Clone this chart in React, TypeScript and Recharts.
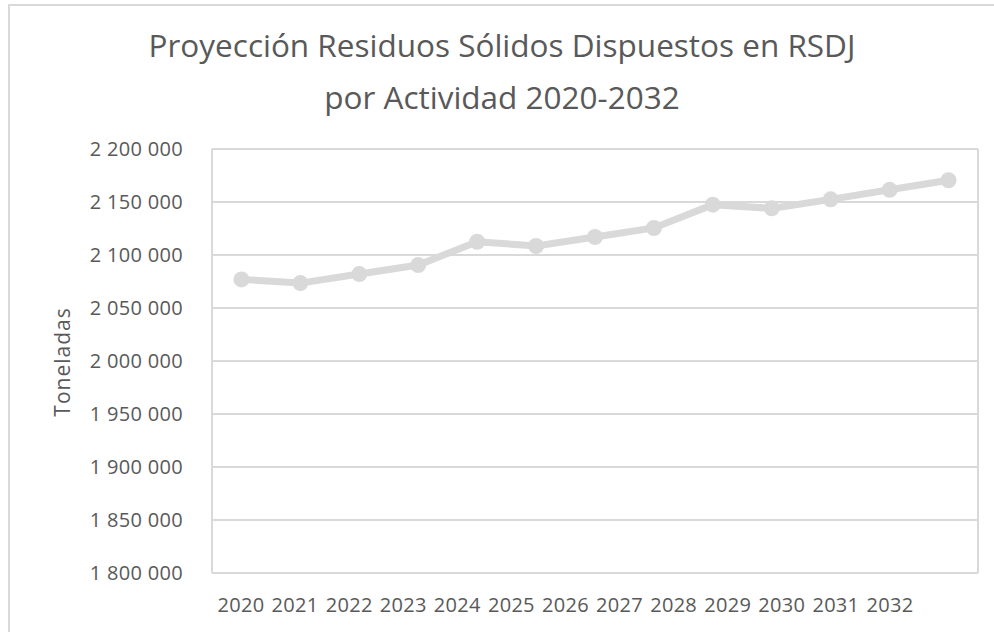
import { LineChart, Line, XAxis, YAxis, CartesianGrid } from "recharts";

const years = [2020, 2021, 2022, 2023, 2024, 2025, 2026, 2027, 2028, 2029, 2030, 2031, 2032];
const toneladas = [
  2077000, 2073500, 2082000, 2090500, 2112500, 2108500, 2117000, 2125500, 2147500, 2144000, 2152500,
  2161500, 2170500,
];
const yTicks = [1800000, 1850000, 1900000, 1950000, 2000000, 2050000, 2100000, 2150000, 2200000];

const title1 = "Proyección Residuos Sólidos Dispuestos en RSDJ";
const title2 = "por Actividad 2020-2032";
const yLabel = "Toneladas";

const data = years.map((year, i) => ({ year, value: toneladas[i] }));

// vertical grid sits between the categories, like Excel does it
const bounds = [...years.map((y) => y - 0.5), years[years.length - 1] + 0.5];

const FONT = "'Open Sans', sans-serif";
const TEXT = "#595959";
const GRID = "#D9D9D9";

const fmt = (v: number) => String(v).replace(/\B(?=(\d{3})+(?!\d))/g, " ");

export default function App() {
  return (
    <div
      style={{
        position: "absolute",
        left: 0,
        top: 0,
        width: 994,
        height: 632,
        overflow: "hidden",
        background: "#fff",
        fontFamily: FONT,
      }}
    >
      <div
        style={{
          position: "absolute",
          left: 8,
          top: 4,
          width: 1100,
          height: 800,
          borderLeft: `2px solid ${GRID}`,
          borderTop: `2px solid ${GRID}`,
        }}
      />
      <div
        style={{
          position: "absolute",
          left: 0,
          top: 19,
          width: 1004,
          textAlign: "center",
          color: TEXT,
          fontSize: 31.5,
          lineHeight: "52px",
        }}
      >
        <div>{title1}</div>
        <div>{title2}</div>
      </div>
      <div
        style={{
          position: "absolute",
          left: 62,
          top: 362,
          transform: "translate(-50%, -50%) rotate(-90deg)",
          color: TEXT,
          fontSize: 21,
          letterSpacing: 1,
          whiteSpace: "nowrap",
        }}
      >
        {yLabel}
      </div>
      <LineChart
        width={994}
        height={632}
        data={data}
        margin={{ top: 149, right: 16, bottom: 0, left: 30 }}
        style={{ position: "absolute", left: 0, top: 0 }}
      >
        <CartesianGrid xAxisId="main" stroke={GRID} strokeWidth={2} />
        <XAxis
          xAxisId="main"
          dataKey="year"
          type="number"
          domain={[bounds[0], bounds[bounds.length - 1]]}
          ticks={bounds}
          tick={false}
          tickLine={false}
          axisLine={{ stroke: GRID, strokeWidth: 2 }}
          height={0}
        />
        {/* the year labels in the source are packed tighter than the columns */}
        <XAxis
          xAxisId="labels"
          dataKey="year"
          type="number"
          domain={[2019.464, 2033.628]}
          ticks={years}
          axisLine={false}
          tickLine={false}
          tickSize={0}
          tickMargin={25}
          height={59}
          tick={{ fill: TEXT, fontSize: 20, fontFamily: FONT, letterSpacing: 0.3 }}
        />
        <YAxis
          domain={[1800000, 2200000]}
          ticks={yTicks}
          tickFormatter={fmt}
          axisLine={false}
          tickLine={false}
          tickSize={0}
          tickMargin={29}
          width={182}
          tick={{ fill: TEXT, fontSize: 20, fontFamily: FONT, letterSpacing: 0.3 }}
        />
        <Line
          xAxisId="main"
          dataKey="value"
          stroke={GRID}
          strokeWidth={7}
          dot={{ r: 8, fill: GRID, stroke: "none" }}
          isAnimationActive={false}
        />
      </LineChart>
    </div>
  );
}
